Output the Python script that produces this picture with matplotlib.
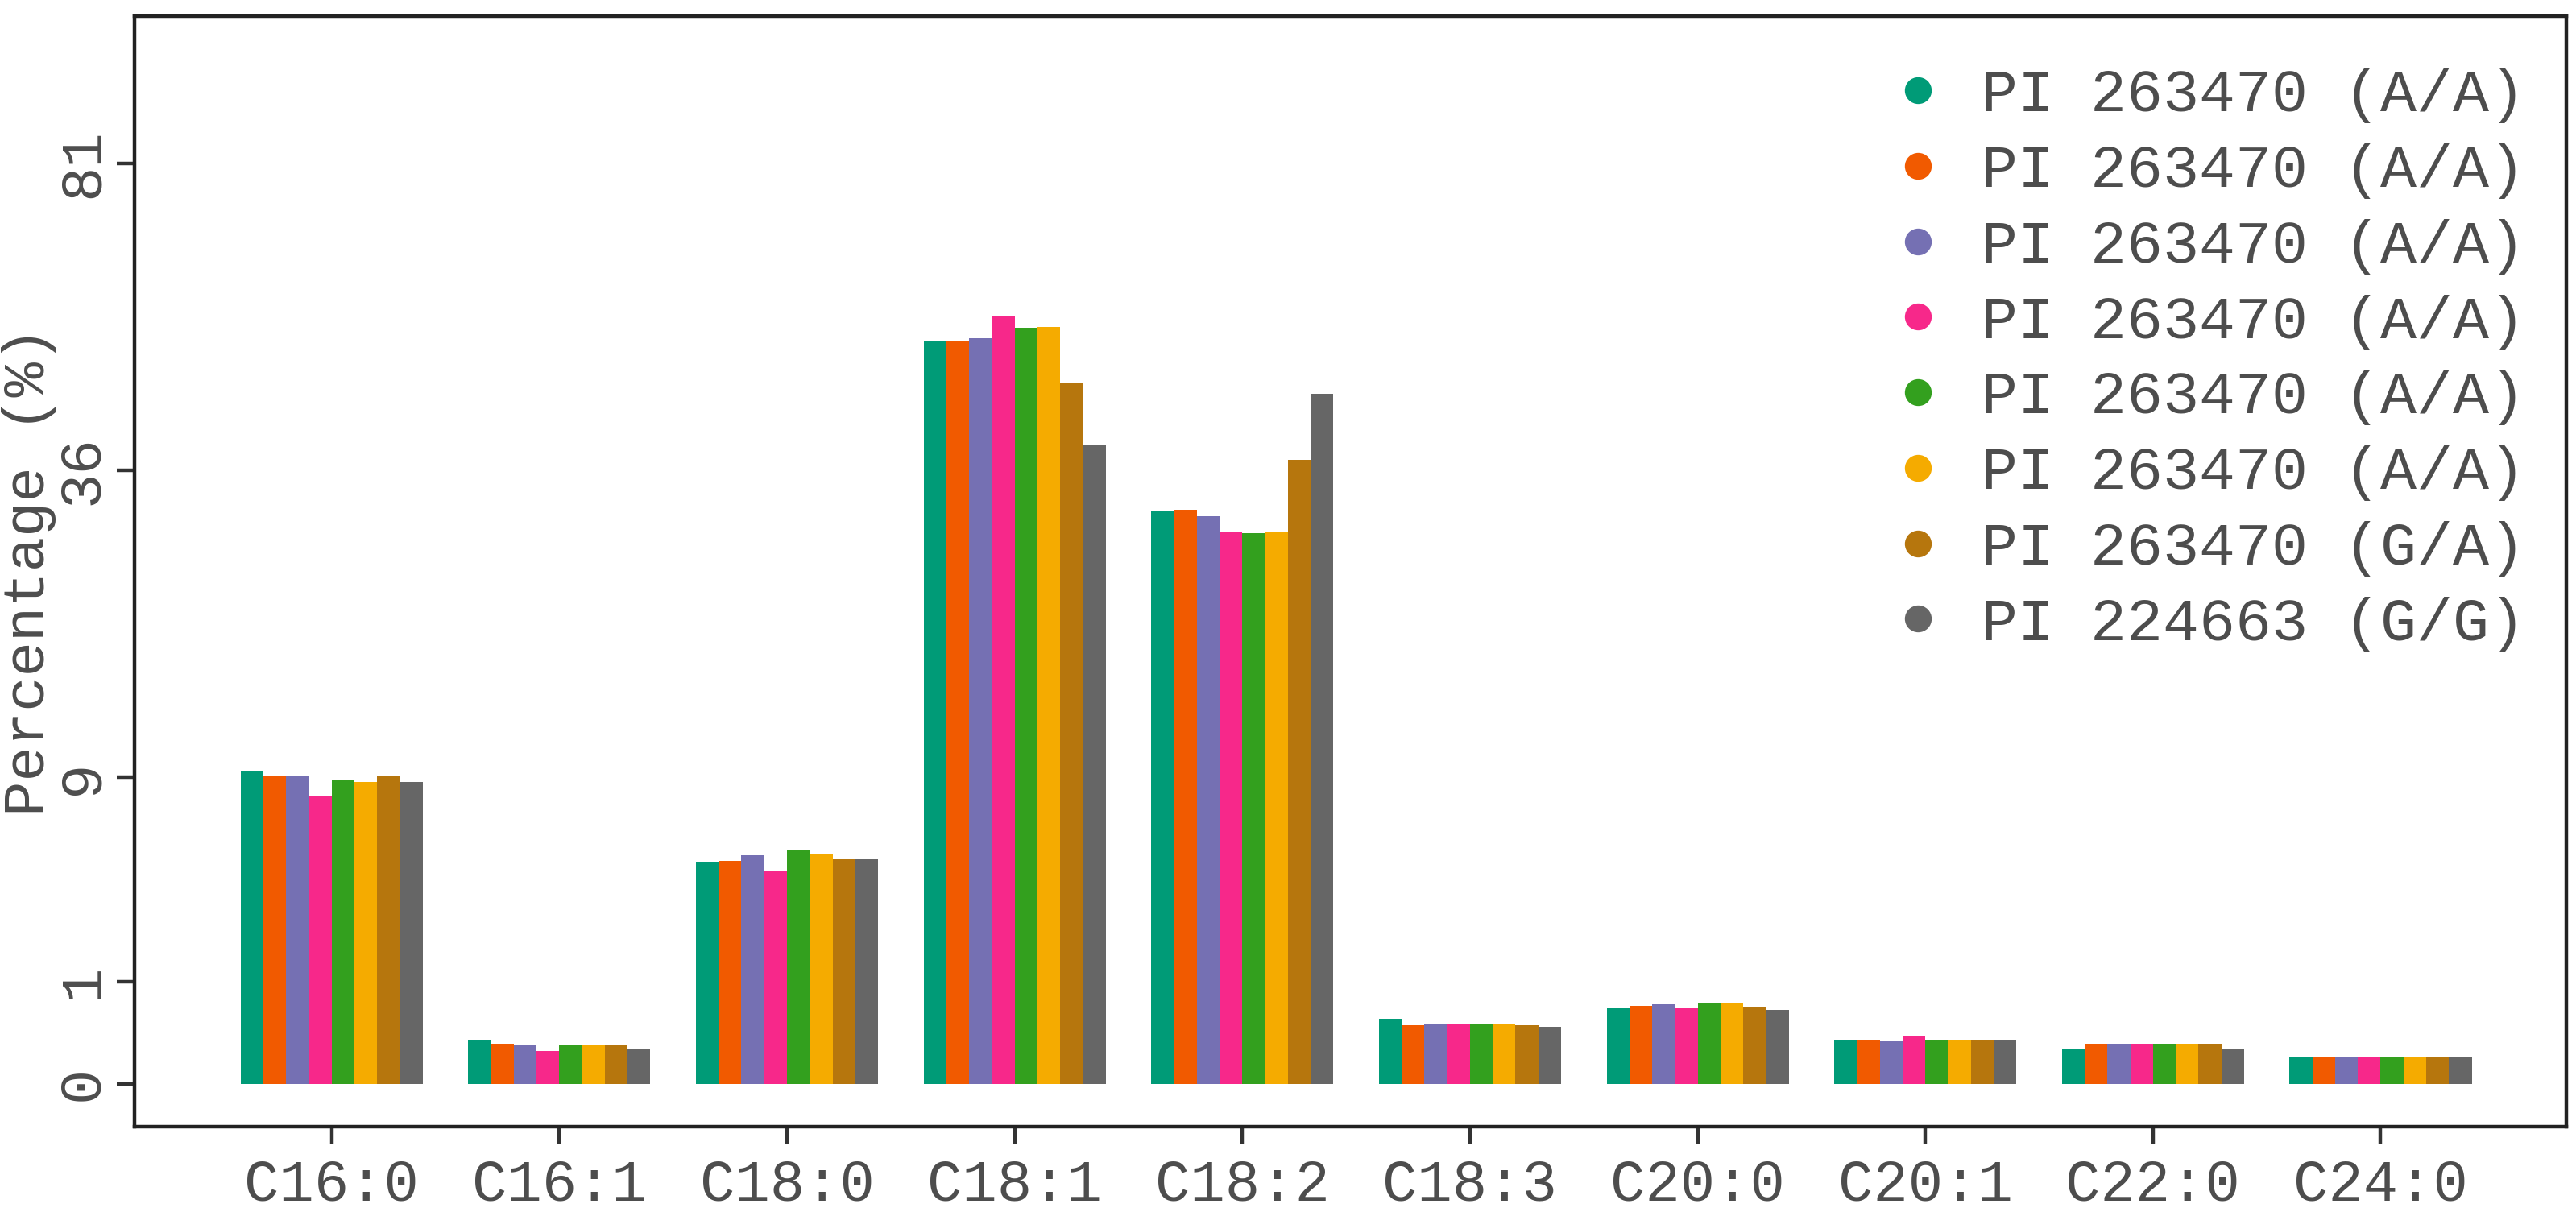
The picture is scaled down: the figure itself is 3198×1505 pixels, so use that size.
"""Fatty acid composition by accession, grouped bars on a sqrt y scale."""

import matplotlib
matplotlib.use("Agg")
import matplotlib.pyplot as plt
import numpy as np

plt.rcParams.update({
    "font.family": ["Liberation Mono", "DejaVu Sans Mono"],
    "text.color": "#4D4D4D",
    "axes.labelcolor": "#4D4D4D",
    "xtick.color": "#333333",
    "ytick.color": "#333333",
    "xtick.labelcolor": "#4D4D4D",
    "ytick.labelcolor": "#4D4D4D",
})

fatty_acids = ["C16:0", "C16:1", "C18:0", "C18:1", "C18:2",
               "C18:3", "C20:0", "C20:1", "C22:0", "C24:0"]

accessions = [
    "PI 263470 (A/A)", "PI 263470 (A/A)", "PI 263470 (A/A)", "PI 263470 (A/A)",
    "PI 263470 (A/A)", "PI 263470 (A/A)", "PI 263470 (G/A)", "PI 224663 (G/G)",
]
colors = ["#009B77", "#F15A00", "#7570B3", "#F7288A",
          "#33A01E", "#F5AB00", "#B6760D", "#666666"]

# percentage per accession (rows) and fatty acid (columns)
pct = [
    [9.31, 0.179, 4.71, 52.7, 31.3, 0.400, 0.543, 0.179, 0.117, 0.071],
    [9.10, 0.152, 4.76, 52.7, 31.5, 0.327, 0.582, 0.184, 0.152, 0.071],
    [9.04, 0.143, 5.00, 53.1, 30.8, 0.348, 0.610, 0.172, 0.152, 0.071],
    [7.92, 0.105, 4.36, 56.3, 29.1, 0.348, 0.551, 0.219, 0.147, 0.071],
    [8.87, 0.143, 5.25, 54.6, 29.0, 0.336, 0.623, 0.184, 0.147, 0.071],
    [8.71, 0.143, 5.05, 54.8, 29.1, 0.336, 0.623, 0.184, 0.147, 0.071],
    [9.04, 0.143, 4.81, 47.0, 37.2, 0.327, 0.570, 0.179, 0.147, 0.071],
    [8.71, 0.116, 4.81, 39.1, 45.5, 0.312, 0.520, 0.179, 0.117, 0.071],
]

y_ticks = [0, 1, 9, 36, 81]


def fwd(v):
    v = np.asarray(v, dtype=float)
    return np.sign(v) * np.sqrt(np.abs(v))


def inv(v):
    v = np.asarray(v, dtype=float)
    return np.sign(v) * v ** 2


fig = plt.figure(figsize=(15.99, 7.525), dpi=200)
ax = fig.add_axes([0.0522, 0.0704, 0.944, 0.9163])
ax.set_yscale("function", functions=(fwd, inv))

x = np.arange(len(fatty_acids))
n = len(accessions)
bar_w = 0.8 / n
for i, (lab, col, vals) in enumerate(zip(accessions, colors, pct)):
    ax.bar(x - 0.4 + bar_w * (i + 0.5), vals, width=bar_w, color=col,
           linewidth=0, label=lab)

ax.set_xlim(-0.866, 9.815)
ax.set_ylim(-0.176, 109)
ax.set_xticks(x)
ax.set_xticklabels(fatty_acids, fontsize=26)
ax.set_yticks(y_ticks)
ax.set_yticklabels([str(t) for t in y_ticks], fontsize=26, rotation=90,
                   va="center")
ax.yaxis.set_minor_locator(matplotlib.ticker.NullLocator())
ax.tick_params(axis="both", length=8, width=1.6, pad=6)
ax.tick_params(axis="y", pad=3)
ax.set_ylabel("Percentage (%)", fontsize=26)
ax.yaxis.set_label_coords(-0.0435, 0.5)
ax.yaxis.label.set_va("center")
for s in ax.spines.values():
    s.set_linewidth(1.6)
    s.set_color("#222222")

handles = [plt.Line2D([], [], marker="o", linestyle="", markersize=11,
                      color=c) for c in colors]
ax.legend(handles, accessions, loc="upper right", frameon=False,
          fontsize=27, labelspacing=0.33, handletextpad=0.55,
          handlelength=1.0, bbox_to_anchor=(0.993, 0.975), borderaxespad=0)

fig.savefig("out.png", dpi=200)
